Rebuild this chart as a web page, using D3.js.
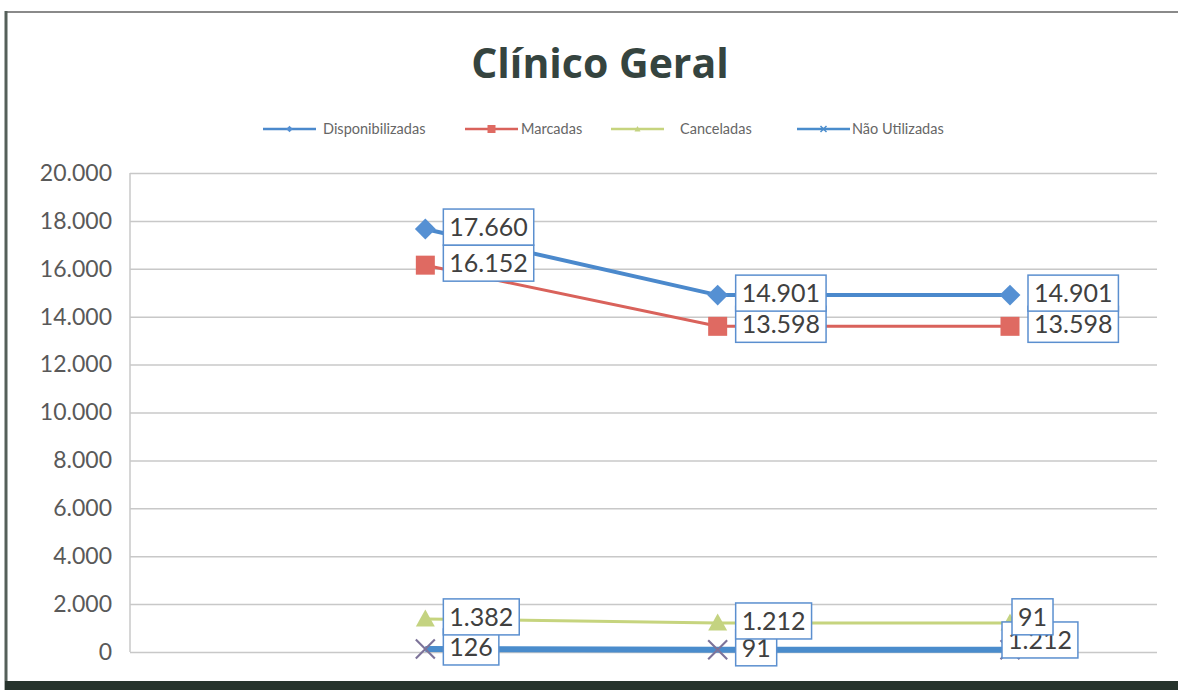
<!DOCTYPE html>
<html>
<head>
<meta charset="utf-8">
<script src="https://cdn.jsdelivr.net/npm/d3@7"></script>
<style>
  html, body { margin: 0; padding: 0; background: #ffffff; }
  svg { display: block; }
</style>
</head>
<body>
<svg id="chart" width="1178" height="690"></svg>
<script>
// Chart data: appointments for "Clínico Geral" over four periods (first period empty)
const periods = ["P0", "P1", "P2", "P3"];
const seriesNames = ["Disponibilizadas", "Marcadas", "Canceladas", "Não Utilizadas"];
const disponibilizadas = [null, 17660, 14901, 14901];
const marcadas = [null, 16152, 13598, 13598];
const canceladas = [null, 1382, 1212, 1212];
const naoUtilizadas = [null, 126, 91, 91];
const yTicks = [0, 2000, 4000, 6000, 8000, 10000, 12000, 14000, 16000, 18000, 20000];

const seriesValues = [disponibilizadas, marcadas, canceladas, naoUtilizadas];
const seriesStyle = [
  { line: "#4b89cc", marker: "#5590d3", width: 4, symbol: "diamond" },
  { line: "#d9625b", marker: "#df6a62", width: 3, symbol: "square" },
  { line: "#c6d47e", marker: "#c4d381", width: 3, symbol: "triangle" },
  { line: "#4a8ccc", marker: "#7d7399", width: 6, symbol: "x" }
];

const FONT = "Lato, 'Open Sans', sans-serif";
const ptBR = d3.formatLocale({ decimal: ",", thousands: ".", grouping: [3], currency: ["R$", ""] });
const fmt = ptBR.format(",d");

const svg = d3.select("#chart");

// outer frame
svg.append("rect").attr("x", 0).attr("y", 0).attr("width", 1178).attr("height", 690).attr("fill", "#ffffff");
svg.append("line").attr("x1", 5).attr("x2", 1178).attr("y1", 12).attr("y2", 12)
  .attr("stroke", "#8a8a8a").attr("stroke-width", 2);
svg.append("line").attr("x1", 6).attr("x2", 6).attr("y1", 11).attr("y2", 690)
  .attr("stroke", "#55605a").attr("stroke-width", 3);
svg.append("rect").attr("x", 5).attr("y", 681).attr("width", 1173).attr("height", 9)
  .attr("fill", "#27342d");

const plot = { left: 130, right: 1157, top: 173, bottom: 652 };

const x = d3.scalePoint().domain(periods).range([133, 1010]);
const y = d3.scaleLinear().domain([0, 20000]).range([plot.bottom, plot.top]);

// title
svg.append("text")
  .attr("x", 600).attr("y", 78)
  .attr("text-anchor", "middle")
  .style("font-family", "'Open Sans', Lato, sans-serif")
  .style("font-size", "41px").style("font-weight", 700)
  .attr("fill", "#35443f")
  .text("Clínico Geral");

// gridlines
svg.append("g")
  .attr("transform", `translate(${plot.left},0)`)
  .call(d3.axisLeft(y).tickValues(yTicks).tickSize(-(plot.right - plot.left)).tickFormat(""))
  .call(g => g.select(".domain").remove())
  .call(g => g.selectAll(".tick line").attr("stroke", "#c8c8c8").attr("stroke-width", 1.5));

// left axis line + labels
svg.append("line").attr("x1", plot.left).attr("x2", plot.left)
  .attr("y1", plot.top).attr("y2", plot.bottom)
  .attr("stroke", "#c8c8c8").attr("stroke-width", 1.5);

const yAxis = svg.append("g")
  .attr("transform", `translate(${plot.left},0)`)
  .call(d3.axisLeft(y).tickValues(yTicks).tickSize(0).tickPadding(18).tickFormat(fmt));
yAxis.select(".domain").remove();
yAxis.selectAll("text")
  .style("font-family", FONT)
  .style("font-size", "23px").attr("fill", "#595959");

// symbol helper
function drawSymbol(g, type, cx, cy, size, color) {
  const h = size / 2;
  if (type === "x") {
    g.append("path")
      .attr("d", `M${cx - h},${cy - h}L${cx + h},${cy + h}M${cx - h},${cy + h}L${cx + h},${cy - h}`)
      .attr("stroke", color).attr("stroke-width", Math.max(1.5, size / 9)).attr("fill", "none");
    return;
  }
  if (type === "diamond") {
    const s = h * 1.1;
    g.append("path")
      .attr("d", `M${cx},${cy - s}L${cx + s},${cy}L${cx},${cy + s}L${cx - s},${cy}Z`)
      .attr("fill", color);
    return;
  }
  if (type === "square") {
    g.append("rect").attr("x", cx - h).attr("y", cy - h)
      .attr("width", size).attr("height", size).attr("fill", color);
    return;
  }
  g.append("path")
    .attr("d", `M${cx},${cy - h}L${cx + h},${cy + h * 0.8}L${cx - h},${cy + h * 0.8}Z`)
    .attr("fill", color);
}

// series lines and markers
const marksG = svg.append("g");
seriesValues.forEach((vals, si) => {
  const st = seriesStyle[si];
  const pts = periods.map((p, i) => ({ p, v: vals[i] }));
  const line = d3.line().defined(d => d.v != null).x(d => x(d.p)).y(d => y(d.v));
  marksG.append("path").datum(pts)
    .attr("d", line).attr("fill", "none")
    .attr("stroke", st.line).attr("stroke-width", st.width)
    .attr("stroke-linejoin", "round");
});
seriesValues.forEach((vals, si) => {
  const st = seriesStyle[si];
  vals.forEach((v, i) => {
    if (v == null) return;
    drawSymbol(marksG, st.symbol, x(periods[i]), y(v), 19, st.marker);
  });
});

// data labels (boxed), with nudges where labels collide at the last period
const labelNudge = { "2-3": [-26, 19], "3-3": [-16, -31] };
const labelsG = svg.append("g");
const labelOrder = [];
[3, 2, 1, 0].forEach(si => seriesValues[si].forEach((v, i) => { if (v != null) labelOrder.push([si, i]); }));
// keep the moved Não Utilizadas label on top
labelOrder.sort((a, b) => (a[0] === 3 && a[1] === 3) - (b[0] === 3 && b[1] === 3));
labelOrder.forEach(([si, i]) => {
  const v = seriesValues[si][i];
  const nudge = labelNudge[`${si}-${i}`] || [0, 0];
  const px = x(periods[i]) + 18 + nudge[0];
  const py = y(v) - 2 + nudge[1];
  const g = labelsG.append("g");
  const rect = g.append("rect");
  const txt = g.append("text")
    .attr("x", px + 6).attr("y", py + 9)
    .style("font-family", FONT).style("font-size", "25px")
    .attr("fill", "#404040")
    .text(fmt(v));
  const w = txt.node().getComputedTextLength();
  rect.attr("x", px).attr("y", py - 18).attr("width", w + 12).attr("height", 36)
    .attr("fill", "#ffffff").attr("stroke", "#5b8fcf").attr("stroke-width", 1.5);
});

// legend
const legendItems = [
  { lx: 263, tx: 323 },
  { lx: 465, tx: 521 },
  { lx: 611, tx: 680 },
  { lx: 797, tx: 852 }
];
const legendG = svg.append("g");
seriesNames.forEach((name, si) => {
  const st = seriesStyle[si];
  const it = legendItems[si];
  const ly = 129;
  legendG.append("line").attr("x1", it.lx).attr("x2", it.lx + 53)
    .attr("y1", ly).attr("y2", ly)
    .attr("stroke", st.line).attr("stroke-width", 2.5);
  drawSymbol(legendG, st.symbol, it.lx + 26.5, ly, si === 1 ? 8 : 6, si === 3 ? st.line : st.marker);
  legendG.append("text").attr("x", it.tx).attr("y", ly + 5)
    .style("font-family", FONT).style("font-size", "14.5px")
    .attr("fill", "#666666")
    .text(name);
});
</script>
</body>
</html>
